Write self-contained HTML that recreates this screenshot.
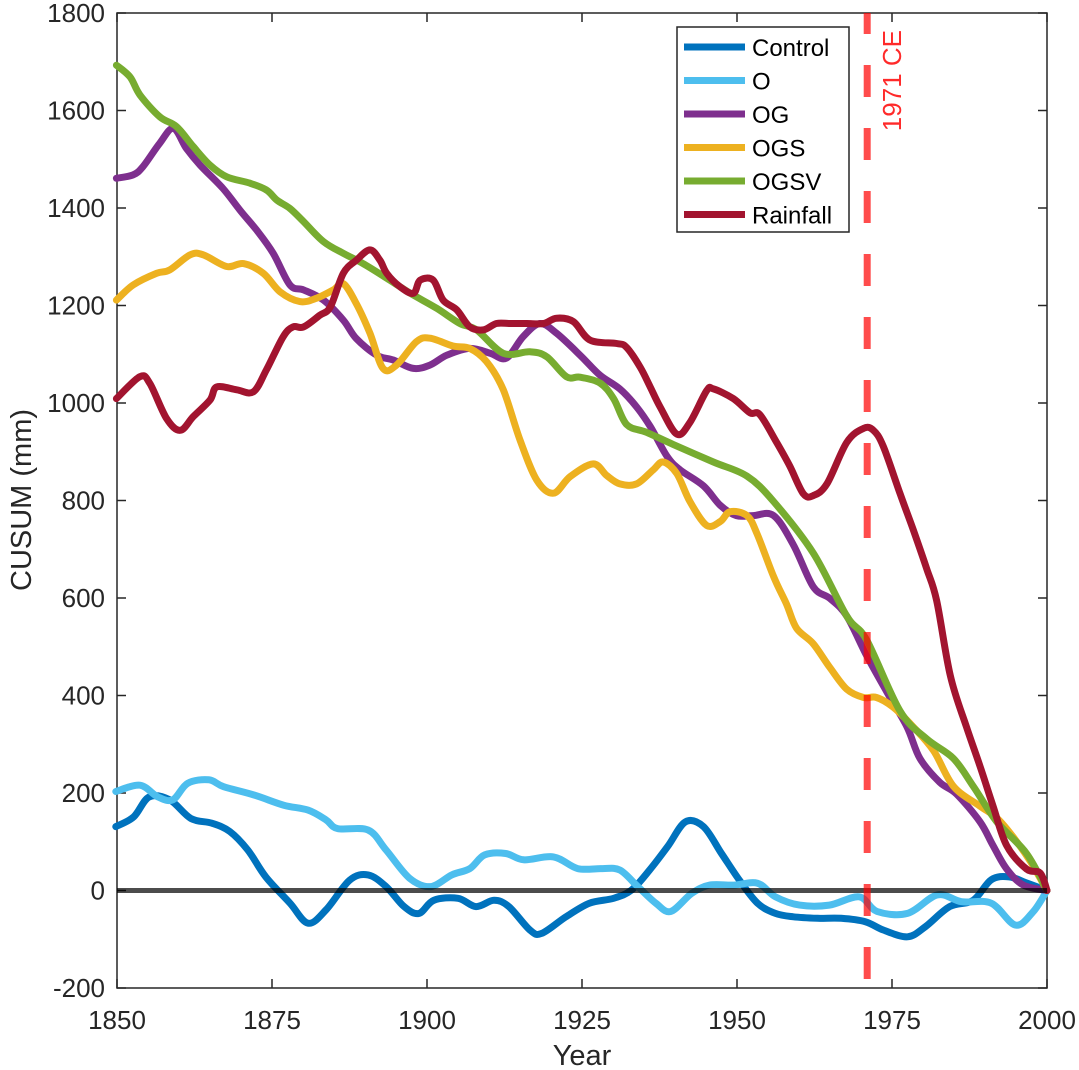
<!DOCTYPE html>
<html><head><meta charset="utf-8">
<style>
html,body{margin:0;padding:0;background:#fff;}
svg{display:block;font-family:"Liberation Sans",sans-serif;}
</style></head>
<body>
<svg id="chart" width="1079" height="1070" viewBox="0 0 1079 1070" xmlns="http://www.w3.org/2000/svg">
<g id="grid"></g>
<g id="series"></g>
<g id="overlay"></g>
<g id="legend"></g>
</svg>
<script>
const xTicks = [1850, 1875, 1900, 1925, 1950, 1975, 2000];
const yTicks = [-200, 0, 200, 400, 600, 800, 1000, 1200, 1400, 1600, 1800];
const markerYear = 1971;

const controlYears = [1849.8,1852.7,1855.2,1858.5,1861.9,1865.3,1868.2,1871.1,1874,1877.9,1880.8,1883.7,1887.5,1890.5,1893.4,1896.3,1898.7,1901.1,1905,1907.9,1910.8,1913.2,1916.6,1918.5,1922.4,1926.2,1930.1,1933,1935.9,1938.8,1941.7,1944.6,1947.5,1950.4,1953.3,1956.2,1959.1,1963,1966.8,1970.7,1973.6,1977.5,1980.4,1984.3,1988.1,1991,1993.9,1996.8,2000];
const controlValues = [131,151,192,186,148,138,121,83,28,-26,-67,-40,21,32,8,-33,-47,-20,-16,-33,-20,-33,-81,-88,-54,-26,-16,1,42,90,141,131,76,21,-26,-47,-54,-57,-57,-64,-81,-95,-74,-33,-20,22,28,15,0];

const oYears = [1849.8,1853.7,1856.6,1859,1861.4,1864.8,1867.2,1872.1,1876.9,1880.8,1883.7,1885.6,1890.5,1893.4,1897.2,1900.6,1904,1906.9,1909.3,1912.7,1915.6,1920.4,1924.3,1928.2,1931.1,1934,1936.9,1939.3,1942.7,1945.6,1949.5,1953.3,1956.2,1960.1,1964.9,1969.7,1972.6,1977.5,1982.3,1986.2,1991,1994.9,1997.8,2000];
const oValues = [203,216,192,186,220,227,213,196,175,165,145,127,124,83,25,8,32,45,73,76,63,69,45,45,42,8,-26,-43,-6,11,11,15,-13,-30,-30,-13,-43,-47,-9,-23,-26,-71,-43,0];

const ogYears = [1849.9,1852.6,1854.2,1856.9,1859.1,1861.2,1863.4,1867.1,1869.8,1872.5,1875.2,1877.9,1880.1,1883.3,1886.5,1888.6,1891.9,1894.6,1897.8,1900.5,1903.2,1906.9,1910.2,1912.8,1915.5,1918.2,1920.9,1924.7,1927.9,1931.1,1933.8,1936,1938.7,1940.8,1944.6,1947.3,1949.9,1952.6,1955.9,1959.1,1962.3,1965,1967.7,1970.9,1974.1,1977.4,1979.5,1982.7,1985.4,1989.2,1991.3,1993.5,1996.2,2000];
const ogValues = [1461,1468,1485,1533,1563,1522,1488,1440,1396,1355,1307,1242,1232,1211,1170,1132,1098,1088,1071,1078,1098,1112,1102,1092,1136,1163,1143,1098,1057,1029,992,952,891,863,830,790,769,769,769,709,623,599,563,482,409,336,271,222,198,141,92,44,11,0];

const ogsYears = [1849.9,1852.6,1856.4,1858.5,1861.8,1863.9,1867.7,1870.4,1873.6,1876.3,1879.5,1882.2,1884.9,1886.5,1888.6,1890.8,1892.9,1895.1,1898.3,1900.5,1904.2,1906.9,1909.6,1912.3,1915,1917.7,1920.4,1923.1,1926.8,1929,1931.1,1933.8,1936.5,1938.1,1940.3,1942.4,1945.1,1947.3,1948.9,1951.6,1953.2,1955.9,1958,1959.6,1962.3,1965,1967.7,1970.4,1972.5,1975.2,1978.4,1981.7,1984.9,1989.2,1991.9,1994.6,1997.3,2000];
const ogsValues = [1211,1242,1266,1273,1304,1304,1280,1286,1266,1228,1208,1215,1232,1245,1204,1143,1071,1078,1126,1133,1117,1112,1085,1027,924,842,815,849,875,851,834,834,863,879,855,798,749,757,777,769,733,644,587,538,506,457,413,396,396,376,336,287,214,173,149,109,60,0];

const ogsvYears = [1849.9,1852.1,1853.7,1856.9,1859.6,1862.3,1865,1867.7,1871.4,1874.1,1875.8,1877.9,1880.1,1883.3,1886.5,1889.7,1894,1897.3,1901.6,1905.3,1908,1912.3,1916.6,1919.3,1922.5,1924.7,1927.9,1930.1,1932.2,1935.4,1939.7,1946.2,1951.6,1955.9,1962.3,1967.7,1970.9,1976.3,1980.6,1984.9,1988.1,1991.9,1996.7,2000];
const ogsvValues = [1693,1669,1632,1587,1567,1526,1488,1464,1451,1437,1416,1399,1372,1331,1307,1286,1252,1225,1194,1163,1150,1102,1105,1095,1054,1053,1041,1009,956,940,915,879,850,798,692,563,514,368,311,271,214,141,76,0];

const rainYears = [1849.9,1853.7,1855.3,1858,1860.2,1862.3,1865,1866.1,1869.3,1872,1874.1,1876.8,1878.4,1880.1,1882.7,1884.4,1886.5,1888.6,1890.8,1892.4,1893.5,1895.6,1897.8,1898.9,1901,1902.6,1904.8,1906.9,1909.1,1911.2,1913.4,1916.1,1918.8,1920.9,1923.6,1926.3,1930.6,1932.2,1934.4,1936,1937.6,1940.3,1942.4,1945.1,1946.2,1949.4,1952.1,1953.7,1956.4,1958.5,1960.7,1962.3,1964.5,1967.7,1970.4,1972,1973.6,1976.3,1978.4,1980.6,1982.2,1984.4,1987,1989.2,1991.3,1993.5,1996.7,1998.9,2000];
const rainValues = [1009,1054,1040,968,944,972,1006,1033,1027,1023,1068,1136,1156,1156,1180,1197,1266,1293,1314,1293,1266,1239,1225,1252,1252,1211,1191,1156,1150,1163,1163,1163,1163,1174,1167,1129,1122,1114,1073,1033,992,936,960,1025,1029,1009,980,976,919,871,814,810,834,919,948,944,911,814,741,660,595,441,336,255,173,92,44,36,0];

const seriesNames = ["Control","O","OG","OGS","OGSV","Rainfall"];
const seriesColors = ["#0072BD","#4DBEEE","#7E2F8E","#EDB120","#77AC30","#A2142F"];
const seriesX = [controlYears,oYears,ogYears,ogsYears,ogsvYears,rainYears];
const seriesY = [controlValues,oValues,ogValues,ogsValues,ogsvValues,rainValues];

const NS = "http://www.w3.org/2000/svg";
const L = 117, R = 1047, T = 13, B = 988;
const xMin = 1850, xMax = 2000, yMin = -200, yMax = 1800;
function xs(v){ return L + (v - xMin) / (xMax - xMin) * (R - L); }
function ys(v){ return B - (v - yMin) / (yMax - yMin) * (B - T); }
function mk(tag, attrs, parent){ const e = document.createElementNS(NS, tag); for (const k in attrs) e.setAttribute(k, attrs[k]); parent.appendChild(e); return e; }
function smoothPath(pts){
  let d = 'M' + pts[0][0].toFixed(1) + ',' + pts[0][1].toFixed(1);
  for (let i = 0; i < pts.length - 1; i++) {
    const p0 = pts[Math.max(i-1,0)], p1 = pts[i], p2 = pts[i+1], p3 = pts[Math.min(i+2,pts.length-1)];
    const c1x = p1[0] + (p2[0]-p0[0])/6, c1y = p1[1] + (p2[1]-p0[1])/6;
    const c2x = p2[0] - (p3[0]-p1[0])/6, c2y = p2[1] - (p3[1]-p1[1])/6;
    d += ' C' + c1x.toFixed(1) + ',' + c1y.toFixed(1) + ' ' + c2x.toFixed(1) + ',' + c2y.toFixed(1) + ' ' + p2[0].toFixed(1) + ',' + p2[1].toFixed(1);
  }
  return d;
}

const grid = document.getElementById('grid');
const series = document.getElementById('series');
const overlay = document.getElementById('overlay');
const legend = document.getElementById('legend');

const box = mk('rect', {x:L, y:T, width:R-L, height:B-T, fill:'none', stroke:'#262626', 'stroke-width':1.5}, grid);



xTicks.forEach(t => {
  const x = xs(t);
  mk('line', {x1:x, y1:B, x2:x, y2:B-9, stroke:'#262626', 'stroke-width':1.5}, grid);
  mk('line', {x1:x, y1:T, x2:x, y2:T+9, stroke:'#262626', 'stroke-width':1.5}, grid);
  const tx = mk('text', {x:x, y:1029, 'text-anchor':'middle', 'font-size':26, fill:'#262626'}, grid);
  tx.textContent = t;
  
  
});
yTicks.forEach(t => {
  const y = ys(t);
  mk('line', {x1:L, y1:y, x2:L+9, y2:y, stroke:'#262626', 'stroke-width':1.5}, grid);
  mk('line', {x1:R, y1:y, x2:R-9, y2:y, stroke:'#262626', 'stroke-width':1.5}, grid);
  const tx = mk('text', {x:105, y:y+9, 'text-anchor':'end', 'font-size':26, fill:'#262626'}, grid);
  tx.textContent = t;
  
  
});
const xt = mk('text', {x:582, y:1065, 'text-anchor':'middle', 'font-size':29, fill:'#262626'}, grid);
xt.textContent = 'Year';


const yt = mk('text', {x:0, y:0, 'text-anchor':'middle', 'font-size':29, fill:'#262626', transform:'translate(31,500) rotate(-90)'}, grid);
yt.textContent = 'CUSUM (mm)';



seriesNames.forEach((n, i) => {
  const pts = seriesX[i].map((yr, j) => [xs(yr), ys(seriesY[i][j])]);
  const p = mk('path', {d:smoothPath(pts), fill:'none', stroke:seriesColors[i], 'stroke-width':7, 'stroke-linejoin':'round', 'stroke-linecap':'round'}, series);
  
  
});

const zl = mk('line', {x1:L, y1:ys(0), x2:R, y2:ys(0), stroke:'rgba(0,0,0,0.7)', 'stroke-width':5}, overlay);



const mx = xs(markerYear);
const ml = mk('line', {x1:mx, y1:T, x2:mx, y2:B, stroke:'rgba(255,0,0,0.7)', 'stroke-width':7, 'stroke-dasharray':'32 31', 'stroke-dashoffset':'11'}, overlay);


const mt = mk('text', {x:0, y:0, 'text-anchor':'end', 'font-size':26, fill:'#ff2a2a', transform:'translate(' + (mx+34) + ',30) rotate(-90)'}, overlay);
mt.textContent = '1971 CE';



const lb = mk('rect', {x:677, y:27, width:172, height:205, fill:'#fff', stroke:'#262626', 'stroke-width':1.5}, legend);


seriesNames.forEach((n, i) => {
  const y = 47 + i * 33.5;
  const g = mk('g', {}, legend);
  
  
  mk('line', {x1:684, y1:y, x2:745, y2:y, stroke:seriesColors[i], 'stroke-width':7}, g);
  const t = mk('text', {x:752, y:y+9, 'font-size':24, fill:'#000'}, g);
  t.textContent = n;
});
</script>
</body></html>
